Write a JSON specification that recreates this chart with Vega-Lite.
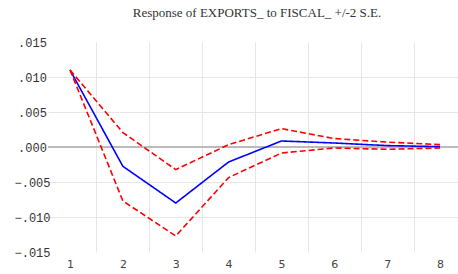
{
  "$schema": "https://vega.github.io/schema/vega-lite/v6.json",
  "autosize": {"type": "none"},
  "width": 410,
  "height": 210,
  "padding": {"left": 48, "top": 42, "right": 0, "bottom": 22},
  "background": "white",
  "config": {"view": {"stroke": null}},
  "title": {
    "text": "Response of EXPORTS_ to FISCAL_ +/-2 S.E.",
    "font": "Liberation Serif",
    "fontSize": 13,
    "fontWeight": "normal",
    "color": "#333333",
    "anchor": "middle",
    "dx": 4,
    "offset": 16
  },
  "data": {
    "values": [
      {"step": 1, "series": "Response", "value": 0.01100},
      {"step": 2, "series": "Response", "value": -0.00276},
      {"step": 3, "series": "Response", "value": -0.00800},
      {"step": 4, "series": "Response", "value": -0.00214},
      {"step": 5, "series": "Response", "value": 0.00086},
      {"step": 6, "series": "Response", "value": 0.00057},
      {"step": 7, "series": "Response", "value": 0.00020},
      {"step": 8, "series": "Response", "value": 0.00005},
      {"step": 1, "series": "Upper", "value": 0.01100},
      {"step": 2, "series": "Upper", "value": 0.00206},
      {"step": 3, "series": "Upper", "value": -0.00323},
      {"step": 4, "series": "Upper", "value": 0.00034},
      {"step": 5, "series": "Upper", "value": 0.00263},
      {"step": 6, "series": "Upper", "value": 0.00120},
      {"step": 7, "series": "Upper", "value": 0.00070},
      {"step": 8, "series": "Upper", "value": 0.00034},
      {"step": 1, "series": "Lower", "value": 0.01100},
      {"step": 2, "series": "Lower", "value": -0.00771},
      {"step": 3, "series": "Lower", "value": -0.01271},
      {"step": 4, "series": "Lower", "value": -0.00437},
      {"step": 5, "series": "Lower", "value": -0.00086},
      {"step": 6, "series": "Lower", "value": -0.00014},
      {"step": 7, "series": "Lower", "value": -0.00033},
      {"step": 8, "series": "Lower", "value": -0.00014}
    ]
  },
  "layer": [
    {
      "mark": {"type": "rule", "color": "#bbbbbb", "strokeWidth": 1.5},
      "encoding": {
        "x": {
          "datum": 0.583,
          "type": "quantitative",
          "scale": {"domain": [0.583, 8.34], "nice": false, "zero": false},
          "axis": {
            "orient": "top",
            "values": [1.5, 2.5, 3.5, 4.5, 5.5, 6.5, 7.5],
            "title": null,
            "grid": true,
            "gridColor": "#e6e6e6",
            "gridWidth": 1,
            "labels": false,
            "domain": false,
            "ticks": false
          }
        },
        "x2": {"datum": 8.34},
        "y": {
          "datum": 0,
          "type": "quantitative",
          "scale": {"domain": [-0.015, 0.015], "nice": false},
          "axis": {
            "orient": "right",
            "values": [-0.01, -0.005, 0, 0.005, 0.01],
            "title": null,
            "grid": true,
            "gridColor": "#e6e6e6",
            "gridWidth": 1,
            "labels": false,
            "domain": false,
            "ticks": false
          }
        }
      }
    },
    {
      "mark": {"type": "line", "strokeWidth": 1.6},
      "encoding": {
        "x": {
          "field": "step",
          "type": "quantitative",
          "axis": {
            "orient": "bottom",
            "values": [1, 2, 3, 4, 5, 6, 7, 8],
            "title": null,
            "grid": false,
            "domain": false,
            "ticks": false,
            "tickSize": 0,
            "labelPadding": 6,
            "labelFont": "DejaVu Sans",
            "labelFontSize": 11,
            "labelColor": "#444444",
            "format": "d"
          }
        },
        "y": {
          "field": "value",
          "type": "quantitative",
          "axis": {
            "orient": "left",
            "values": [-0.015, -0.01, -0.005, 0, 0.005, 0.01, 0.015],
            "title": null,
            "grid": false,
            "domain": false,
            "ticks": false,
            "tickSize": 0,
            "labelAlign": "center",
            "labelPadding": 16,
            "labelFont": "Liberation Mono",
            "labelFontSize": 12,
            "labelColor": "#333333",
            "labelExpr": "replace(format(datum.value, '.3f'), '0.', '.')"
          }
        },
        "color": {
          "field": "series",
          "type": "nominal",
          "scale": {"domain": ["Response", "Upper", "Lower"], "range": ["#0000ff", "#ff0000", "#ff0000"]},
          "legend": null
        },
        "strokeDash": {
          "field": "series",
          "type": "nominal",
          "scale": {"domain": ["Response", "Upper", "Lower"], "range": [[1, 0], [6, 3], [6, 3]]},
          "legend": null
        },
        "order": {"field": "step"}
      }
    }
  ],
  "resolve": {"axis": {"x": "independent", "y": "independent"}}
}
